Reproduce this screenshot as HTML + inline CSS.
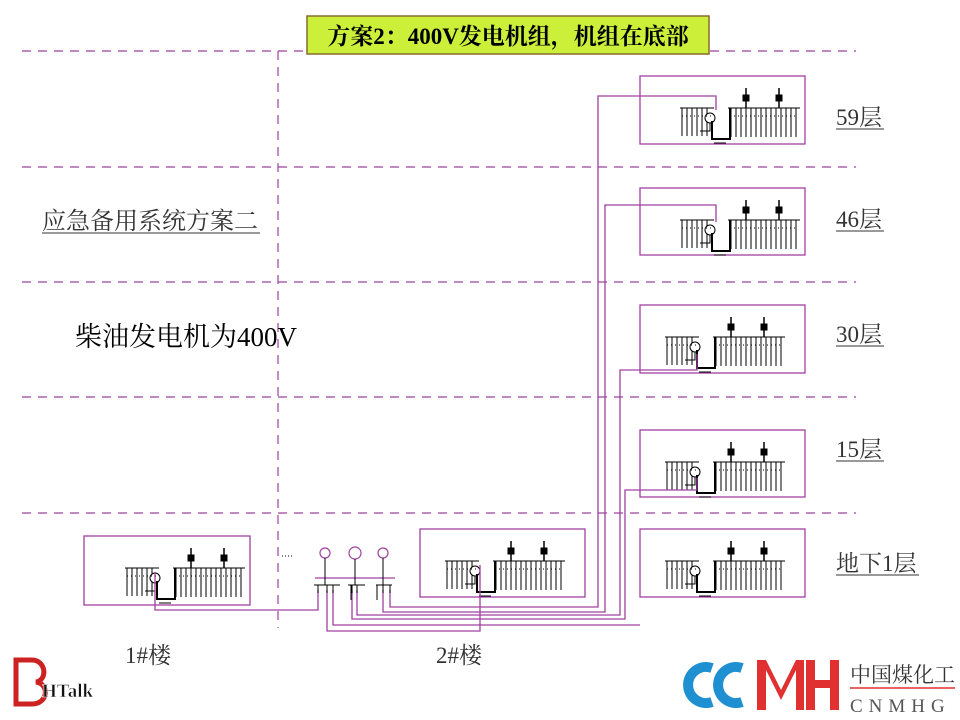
<!DOCTYPE html>
<html><head><meta charset="utf-8"><style>
html,body{margin:0;padding:0;background:#fff}
svg{display:block}
text{font-family:"Liberation Serif","Noto Serif CJK SC",serif}
</style></head><body>
<svg width="960" height="720" viewBox="0 0 960 720" xmlns="http://www.w3.org/2000/svg">
<defs>
<g id="pan" stroke="#000" fill="none" stroke-width="1">
  <line x1="40" y1="32" x2="74" y2="32"/>
  <path d="M42 32v28M47 32v28M52 32v28M57 32v28M62 32v28M67 32v28"/>
  <circle cx="70" cy="42" r="5" fill="#fff"/>
  <path d="M70 47v8h-10" />
  <path d="M72 45v18h18v-31" stroke-width="2"/>
  <line x1="88" y1="32" x2="160" y2="32"/>
  <path d="M91 32v29M96 32v29M101 32v29M106 32v29M111 32v29M116 32v29M121 32v29M126 32v29M131 32v29M136 32v29M141 32v29M146 32v29M151 32v29M156 32v29"/>
  <path d="M106 12v20M139 12v20" stroke-width="1.5"/>
  <rect x="103" y="19" width="6" height="6" fill="#000"/>
  <rect x="136" y="19" width="6" height="6" fill="#000"/>
  <path d="M42 40h30M90 40h68" stroke-dasharray="1 3"/>
  <line x1="74" y1="67" x2="86" y2="67"/>
</g>
</defs>
<g stroke="#a040a0" stroke-width="1.2" stroke-dasharray="9 7">
<line x1="22" y1="51" x2="856" y2="51"/>
<line x1="22" y1="167" x2="856" y2="167"/>
<line x1="22" y1="282" x2="856" y2="282"/>
<line x1="22" y1="397" x2="856" y2="397"/>
<line x1="22" y1="513" x2="856" y2="513"/>
<line x1="278" y1="51" x2="278" y2="628"/>
</g>
<rect x="307" y="16" width="402" height="38" fill="#ccf03a" stroke="#8a6a30" stroke-width="1.5"/>
<text x="508" y="44" font-size="23" font-weight="bold" text-anchor="middle" fill="#000">方案2：400V发电机组，机组在底部</text>
<text x="42" y="229" font-size="24" fill="#333">应急备用系统方案二</text>
<line x1="42" y1="233" x2="260" y2="233" stroke="#333"/>
<text x="75" y="346" font-size="27" fill="#000">柴油发电机为400V</text>
<g font-size="23" fill="#333">
<text x="836" y="125">59层</text><line x1="836" y1="129" x2="884" y2="129" stroke="#333"/>
<text x="836" y="227">46层</text><line x1="836" y1="231" x2="884" y2="231" stroke="#333"/>
<text x="836" y="342">30层</text><line x1="836" y1="346" x2="884" y2="346" stroke="#333"/>
<text x="836" y="457">15层</text><line x1="836" y1="461" x2="884" y2="461" stroke="#333"/>
<text x="836" y="571">地下1层</text><line x1="836" y1="575" x2="919" y2="575" stroke="#333"/>
<text x="125" y="663">1#楼</text>
<text x="436" y="663">2#楼</text>
</g>
<g fill="none" stroke="#a040a0" stroke-width="1.3">
<rect x="640" y="76" width="165" height="68"/>
<rect x="640" y="188" width="165" height="67"/>
<rect x="640" y="305" width="165" height="68"/>
<rect x="640" y="430" width="165" height="67"/>
<rect x="640" y="529" width="165" height="68"/>
<rect x="420" y="529" width="165" height="68"/>
<rect x="84" y="536" width="166" height="69"/>
</g>
<use href="#pan" x="640" y="76"/>
<use href="#pan" x="640" y="188"/>
<use href="#pan" x="625" y="305"/>
<use href="#pan" x="625" y="430"/>
<use href="#pan" x="625" y="529"/>
<use href="#pan" x="405" y="529"/>
<use href="#pan" x="85" y="536"/>
<g fill="none" stroke="#a040a0" stroke-width="1.3">
<path d="M716 110V96H598V607H390V590"/>
<path d="M716 222V205H605V612H383V590"/>
<path d="M697 354V370H620V615H357V590"/>
<path d="M697 478V490H625V619H352V590"/>
<path d="M640 625H333V590"/>
<path d="M480 565V631H327V590"/>
<path d="M155 572V610H318V590"/>
<line x1="315" y1="578" x2="395" y2="578"/>
</g>
<g fill="none" stroke="#a040a0" stroke-width="1.2">
<circle cx="325" cy="553" r="5"/><circle cx="355" cy="553" r="6"/><circle cx="383" cy="553" r="5"/>
</g>
<g stroke="#000" stroke-width="1" fill="none">
<path d="M325 558V585M355 559V585M383 558V585"/>
<path d="M314 585H340M348 585H365M376 585H392"/>
<path d="M318 585v8M327 585v8M333 585v8M352 585v8M357 585v8M383 585v8M390 585v8"/>
<path d="M351 585v15M377 585v15"/>
<path d="M282 556h10" stroke-dasharray="1 2"/>
</g>
<path d="M16 660h16c14 0 16 20 4 22c14 2 12 22 -4 22h-16z" fill="none" stroke="#cc2222" stroke-width="5"/>
<text x="42" y="697" font-family="Liberation Sans,sans-serif" font-size="19" font-weight="bold" fill="#111" stroke="#fff" stroke-width="0.5">HTalk</text>
<g fill="none" stroke="#1e8fd0" stroke-width="10">
<path d="M712 668a18 18 0 1 0 0 34"/>
<path d="M742 668a18 18 0 1 0 0 34"/>
</g>
<path d="M757 660h9l15 30l15 -30h8v50h-8v-40l-15 30l-15 -30v40h-9z" fill="#e03030"/>
<path d="M806 660h9v20h15v-20h9v50h-9v-22h-15v22h-9z" fill="#e03030"/>
<text x="850" y="682" font-family="Liberation Sans,'Noto Sans CJK SC',sans-serif" font-size="21" fill="#333">中国煤化工</text>
<line x1="850" y1="688" x2="955" y2="688" stroke="#e03030" stroke-width="1.5"/>
<text x="850" y="712" font-family="Liberation Sans,sans-serif" font-size="19" fill="#555" letter-spacing="6">CNMHG</text>
</svg>
</body></html>
